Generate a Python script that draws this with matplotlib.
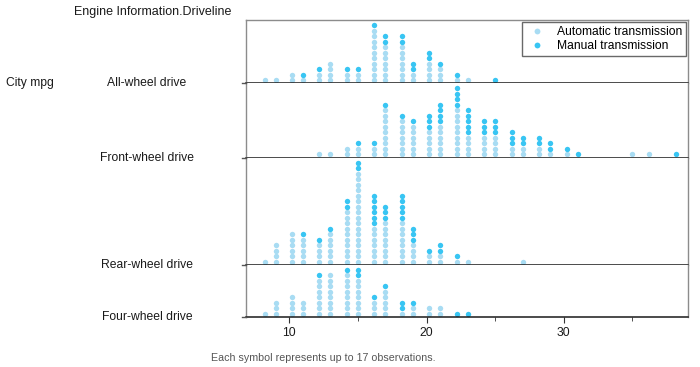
import numpy as np
import matplotlib
matplotlib.use("Agg")
import matplotlib.pyplot as plt
from matplotlib.lines import Line2D

plt.rcParams['font.family'] = ['Liberation Sans', 'DejaVu Sans']

panels = ["All-wheel drive", "Front-wheel drive", "Rear-wheel drive", "Four-wheel drive"]

awd_mpg = [8, 9, 10, 11, 12, 13, 14, 15, 16, 17, 18, 19, 20, 21, 22, 23, 25]
awd_auto = [1, 1, 2, 1, 2, 4, 2, 2, 10, 7, 7, 2, 4, 3, 1, 1, 0]
awd_manual = [0, 0, 0, 1, 1, 0, 1, 1, 1, 2, 2, 2, 2, 1, 1, 0, 1]

fwd_mpg = [12, 13, 14, 15, 16, 17, 18, 19, 20, 21, 22, 23, 24, 25, 26, 27, 28, 29, 30, 31, 35, 36, 38]
fwd_auto = [1, 1, 2, 2, 2, 9, 7, 6, 5, 6, 9, 4, 4, 4, 2, 2, 2, 1, 1, 0, 1, 1, 0]
fwd_manual = [0, 0, 0, 1, 1, 1, 1, 1, 3, 4, 4, 5, 3, 3, 3, 2, 2, 2, 1, 1, 0, 0, 1]

rwd_mpg = [8, 9, 10, 11, 12, 13, 14, 15, 16, 17, 18, 19, 20, 21, 22, 23, 27]
rwd_auto = [1, 4, 6, 5, 4, 6, 10, 17, 7, 8, 8, 4, 2, 2, 1, 1, 1]
rwd_manual = [0, 0, 0, 1, 1, 1, 2, 2, 6, 3, 5, 3, 1, 2, 1, 0, 0]

fourwd_mpg = [8, 9, 10, 11, 12, 13, 14, 15, 16, 17, 18, 19, 20, 21, 22, 23]
fourwd_auto = [1, 3, 4, 3, 7, 8, 8, 7, 3, 5, 1, 2, 2, 2, 0, 0]
fourwd_manual = [0, 0, 0, 0, 1, 0, 1, 2, 1, 1, 2, 1, 0, 0, 1, 1]

data = [(awd_mpg, awd_auto, awd_manual),
        (fwd_mpg, fwd_auto, fwd_manual),
        (rwd_mpg, rwd_auto, rwd_manual),
        (fourwd_mpg, fourwd_auto, fourwd_manual)]

AUTO_C = '#a8dcf3'
MAN_C = '#38c5f3'
BIN_W = 0.4
BIN_O = 7.0


def bin_pos(v):
    v = np.asarray(v, dtype=float)
    return BIN_O + np.floor((v - BIN_O) / BIN_W + 0.5) * BIN_W


maxes = [max(a + m for a, m in zip(au, ma)) for _, au, ma in data]
ratios = [mx + 0.5 for mx in maxes]

fig = plt.figure(figsize=(7.0, 3.67), dpi=100)
gs = fig.add_gridspec(4, 1, height_ratios=ratios, hspace=0,
                      left=246 / 700, right=688 / 700, top=1 - 20 / 367, bottom=1 - 317 / 367)
axes = []
for i, (mpg, au, ma) in enumerate(data):
    ax = fig.add_subplot(gs[i])
    axes.append(ax)
    xs_a, ys_a, xs_m, ys_m = [], [], [], []
    pos = bin_pos(mpg)
    for p, a, m in zip(pos, au, ma):
        for k in range(a):
            xs_a.append(p); ys_a.append(k)
        for k in range(m):
            xs_m.append(p); ys_m.append(a + k)
    ax.scatter(xs_a, ys_a, s=15, color=AUTO_C, linewidths=0, zorder=3)
    ax.scatter(xs_m, ys_m, s=15, color=MAN_C, linewidths=0, zorder=3)
    ax.set_xlim(6.85, 39.05)
    ax.set_ylim(-0.55, maxes[i] - 0.05)
    ax.set_yticks([])
    for side in ['left', 'right', 'top']:
        ax.spines[side].set_color('#8c8c8c')
        ax.spines[side].set_linewidth(1.0)
    ax.spines['bottom'].set_color('#1a1a1a')
    ax.spines['bottom'].set_linewidth(1.1)
    ax.spines['bottom'].set_zorder(5)
    if i > 0:
        ax.spines['top'].set_visible(False)
    if i < 3:
        ax.tick_params(axis='x', bottom=False, labelbottom=False)
    bb = ax.get_position()
    fig.text(147 / 700, bb.y0, panels[i], ha='center', va='center', fontsize=8.7, color='#1a1a1a')
    fig.add_artist(Line2D([bb.x0 - 4 / 700, bb.x0], [bb.y0, bb.y0], color='#555555', lw=1.0))

axb = axes[-1]
axb.set_xticks([10, 20, 30])
axb.set_xticks([15, 25, 35], minor=True)
axb.tick_params(axis='x', which='major', length=4, labelsize=8.7, color='#333333', labelcolor='#1a1a1a')
axb.tick_params(axis='x', which='minor', length=3, color='#333333')

handles = [Line2D([], [], marker='o', ls='none', markersize=4.2, markerfacecolor=AUTO_C, markeredgewidth=0),
           Line2D([], [], marker='o', ls='none', markersize=4.2, markerfacecolor=MAN_C, markeredgewidth=0)]
leg = axes[0].legend(handles, ["Automatic transmission", "Manual transmission"],
                     loc='upper right', bbox_to_anchor=(1.0, 1.0), fontsize=8.7, frameon=True,
                     fancybox=False, borderaxespad=0.15, handletextpad=0.7, handlelength=1.8,
                     borderpad=0.35, labelspacing=0.15)
leg.get_frame().set_edgecolor('#444444')
leg.get_frame().set_linewidth(1.0)

fig.text(153 / 700, 1 - 11.5 / 367, "Engine Information.Driveline", ha='center', va='center', fontsize=9.0, color='#1a1a1a')
fig.text(30 / 700, 1 - 83 / 367, "City mpg", ha='center', va='center', fontsize=8.7, color='#1a1a1a')
fig.text(323 / 700, 1 - 358 / 367, "Each symbol represents up to 17 observations.", ha='center', va='center',
         fontsize=7.7, color='#555555')

fig.savefig("out.png", dpi=100)
